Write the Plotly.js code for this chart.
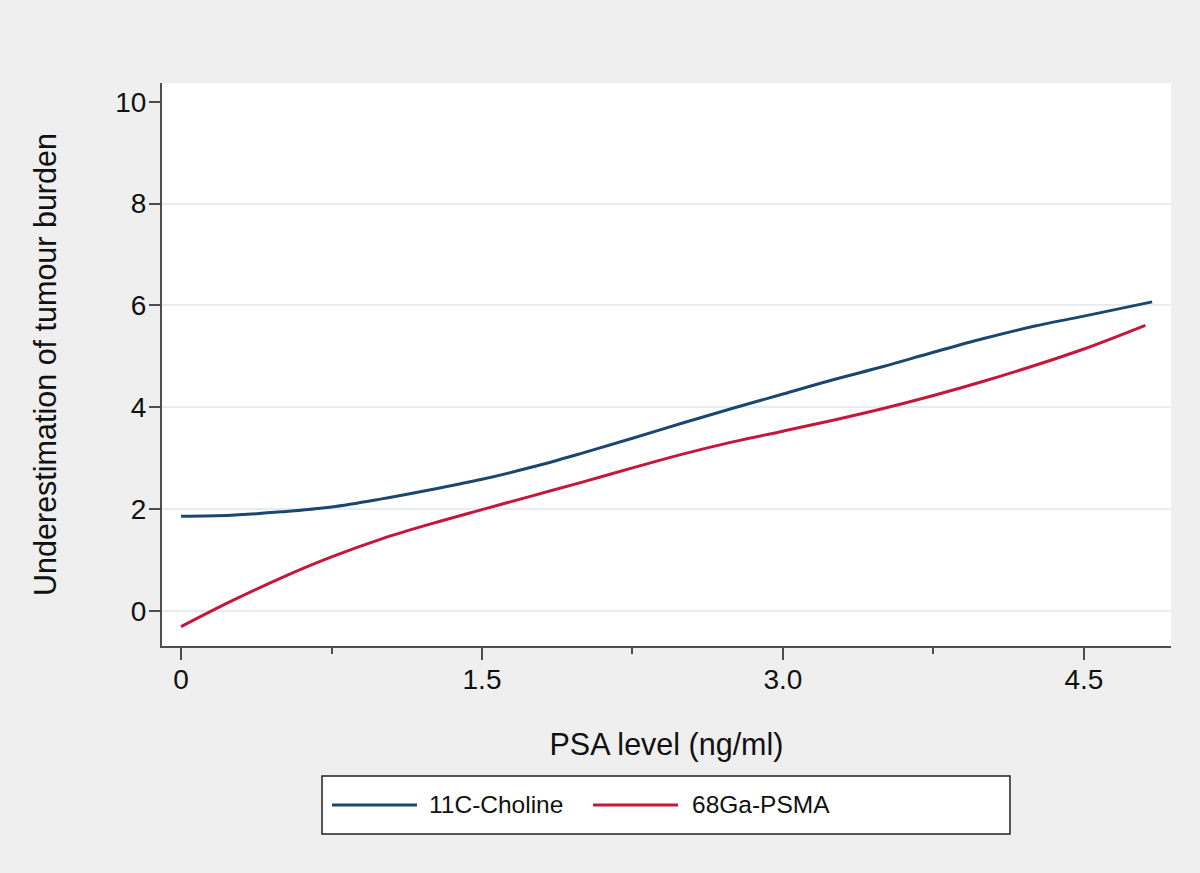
<!DOCTYPE html>
<html>
<head>
<meta charset="utf-8">
<script src="https://cdn.plot.ly/plotly-3.0.1.min.js"></script>
<style>html,body{margin:0;padding:0;background:#efefef;}#chart{width:1200px;height:873px;}</style>
</head>
<body>
<div id="chart"></div>
<script>
// PSA level (ng/ml)
const psaCholine = [0, 0.25, 0.5, 0.75, 1.0, 1.25, 1.5, 1.75, 2.0, 2.25, 2.5, 2.75, 3.0, 3.25, 3.5, 3.75, 4.0, 4.25, 4.5, 4.84];
const choline =    [1.86, 1.88, 1.945, 2.04, 2.20, 2.385, 2.585, 2.825, 3.10, 3.39, 3.69, 3.98, 4.26, 4.54, 4.80, 5.08, 5.35, 5.59, 5.79, 6.07];
const psaPSMA =    [0, 0.25, 0.5, 0.75, 1.0, 1.25, 1.5, 1.75, 2.0, 2.25, 2.5, 2.75, 3.0, 3.25, 3.5, 3.75, 4.0, 4.25, 4.5, 4.806];
const psma =       [-0.31, 0.19, 0.65, 1.06, 1.415, 1.715, 1.99, 2.26, 2.53, 2.81, 3.08, 3.32, 3.53, 3.745, 3.975, 4.23, 4.51, 4.815, 5.145, 5.61];

const seriesNames = ['11C-Choline', '68Ga-PSMA'];
const seriesColors = ['#1a476f', '#c4173a'];

const xTickVals = [0, 1.5, 3.0, 4.5];
const xTickText = ['0', '1.5', '3.0', '4.5'];
const yTickVals = [0, 2, 4, 6, 8, 10];
const yTickText = ['0', '2', '4', '6', '8', '10'];
const yGridVals = [0, 2, 4, 6, 8];

const xTitle = 'PSA level (ng/ml)';
const yTitle = 'Underestimation of tumour burden';

const FONT = '"Liberation Sans", Arial, Helvetica, sans-serif';
const axisColor = '#4d4d4d';

const traces = [
  {x: psaCholine, y: choline, name: seriesNames[0], type: 'scatter', mode: 'lines',
   line: {color: seriesColors[0], width: 3, shape: 'spline', smoothing: 1}, showlegend: false},
  {x: psaPSMA, y: psma, name: seriesNames[1], type: 'scatter', mode: 'lines',
   line: {color: seriesColors[1], width: 3, shape: 'spline', smoothing: 1}, showlegend: false},
  // invisible trace to carry the gridline axis
  {x: [psaCholine[0]], y: [choline[0]], yaxis: 'y2', type: 'scatter', mode: 'none', hoverinfo: 'skip', showlegend: false}
];

// Legend drawn in paper coordinates (box, samples, labels)
const legY = -0.2824;
const shapes = [
  {type: 'rect', xref: 'paper', yref: 'paper', x0: 0.1586, x1: 0.8404, y0: -0.3339, y1: -0.2309,
   line: {color: '#222222', width: 1.5}, fillcolor: '#ffffff', layer: 'above'},
  {type: 'line', xref: 'paper', yref: 'paper', x0: 0.1685, x1: 0.2527, y0: legY, y1: legY,
   line: {color: seriesColors[0], width: 3}},
  {type: 'line', xref: 'paper', yref: 'paper', x0: 0.4272, x1: 0.5114, y0: legY, y1: legY,
   line: {color: seriesColors[1], width: 3}}
];
const annotations = [
  {xref: 'paper', yref: 'paper', x: 0.2626, y: legY, xanchor: 'left', yanchor: 'middle', showarrow: false,
   text: seriesNames[0], font: {family: FONT, size: 24.5, color: '#111111'}},
  {xref: 'paper', yref: 'paper', x: 0.5233, y: legY, xanchor: 'left', yanchor: 'middle', showarrow: false,
   text: seriesNames[1], font: {family: FONT, size: 24.5, color: '#111111'}}
];

const layout = {
  width: 1200, height: 873,
  paper_bgcolor: '#efefef',
  plot_bgcolor: '#ffffff',
  margin: {l: 162, r: 29, t: 83, b: 227},
  font: {family: FONT, color: '#111111'},
  xaxis: {
    range: [-0.095, 4.934],
    tickmode: 'array', tickvals: xTickVals, ticktext: xTickText,
    ticks: 'outside', ticklen: 12, tickwidth: 2, tickcolor: axisColor,
    minor: {tickmode: 'linear', tick0: 0, dtick: 0.75, ticks: 'outside', ticklen: 6, tickwidth: 2, tickcolor: axisColor, showgrid: false},
    showline: true, linecolor: axisColor, linewidth: 2,
    showgrid: false, zeroline: false,
    tickfont: {family: FONT, size: 28, color: '#111111'},
    ticklabelstandoff: -5,
    title: {text: xTitle, font: {family: FONT, size: 30.5, color: '#111111'}, standoff: 40},
    automargin: false
  },
  yaxis: {
    range: [-0.69, 10.37],
    tickmode: 'array', tickvals: yTickVals, ticktext: yTickText,
    ticks: 'outside', ticklen: 11, tickwidth: 2, tickcolor: axisColor,
    showline: true, linecolor: axisColor, linewidth: 2,
    showgrid: false, zeroline: false,
    tickfont: {family: FONT, size: 28, color: '#111111'},
    ticklabelstandoff: -3,
    title: {text: yTitle, font: {family: FONT, size: 30.5, color: '#111111'}, standoff: 50},
    automargin: false
  },
  yaxis2: {
    overlaying: 'y', range: [-0.69, 10.37],
    tickmode: 'array', tickvals: yGridVals, showticklabels: false, ticks: '',
    showgrid: true, gridcolor: '#e6ecef', gridwidth: 2, zeroline: false, showline: false,
    layer: 'below traces'
  },
  shapes: shapes,
  annotations: annotations,
  showlegend: false
};

Plotly.newPlot('chart', traces, layout, {displayModeBar: false, staticPlot: true});
</script>
</body>
</html>
